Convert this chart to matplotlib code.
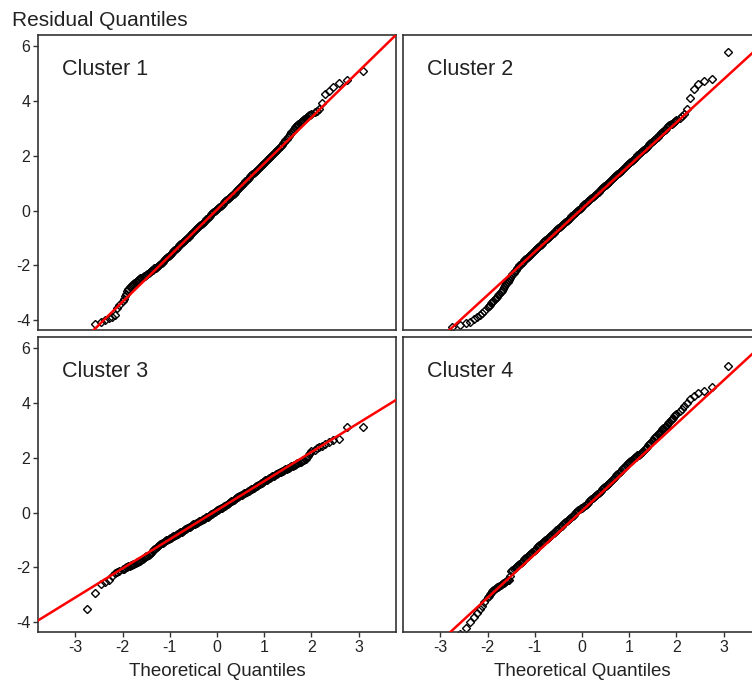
import matplotlib
matplotlib.use('Agg')
import matplotlib.pyplot as plt

plt.rcParams['font.family'] = ['Liberation Sans', 'DejaVu Sans']
plt.rcParams['axes.unicode_minus'] = False

# theoretical normal quantiles (shared by all clusters)
theo_q = [-3.09, -2.75, -2.58, -2.46, -2.37, -2.29, -2.23, -2.17, -2.12, -2.07,
          -2.000, -1.975, -1.950, -1.925, -1.900, -1.875, -1.850, -1.825, -1.800, -1.775,
          -1.750, -1.725, -1.700, -1.675, -1.650, -1.625, -1.600, -1.575, -1.550, -1.525,
          -1.500, -1.475, -1.450, -1.425, -1.400, -1.375, -1.350, -1.325, -1.300, -1.275,
          -1.250, -1.225, -1.200, -1.175, -1.150, -1.125, -1.100, -1.075, -1.050, -1.025,
          -1.000, -0.975, -0.950, -0.925, -0.900, -0.875, -0.850, -0.825, -0.800, -0.775,
          -0.750, -0.725, -0.700, -0.675, -0.650, -0.625, -0.600, -0.575, -0.550, -0.525,
          -0.500, -0.475, -0.450, -0.425, -0.400, -0.375, -0.350, -0.325, -0.300, -0.275,
          -0.250, -0.225, -0.200, -0.175, -0.150, -0.125, -0.100, -0.075, -0.050, -0.025,
          0.000,
          0.025, 0.050, 0.075, 0.100, 0.125, 0.150, 0.175, 0.200, 0.225, 0.250,
          0.275, 0.300, 0.325, 0.350, 0.375, 0.400, 0.425, 0.450, 0.475, 0.500,
          0.525, 0.550, 0.575, 0.600, 0.625, 0.650, 0.675, 0.700, 0.725, 0.750,
          0.775, 0.800, 0.825, 0.850, 0.875, 0.900, 0.925, 0.950, 0.975, 1.000,
          1.025, 1.050, 1.075, 1.100, 1.125, 1.150, 1.175, 1.200, 1.225, 1.250,
          1.275, 1.300, 1.325, 1.350, 1.375, 1.400, 1.425, 1.450, 1.475, 1.500,
          1.525, 1.550, 1.575, 1.600, 1.625, 1.650, 1.675, 1.700, 1.725, 1.750,
          1.775, 1.800, 1.825, 1.850, 1.875, 1.900, 1.925, 1.950, 1.975, 2.000,
          2.07, 2.12, 2.17, 2.23, 2.29, 2.37, 2.46, 2.58, 2.75, 3.09]

# sample (residual) quantiles
cluster1_q = [-5.30, -4.62, -4.15, -4.08, -4.00, -3.93, -3.87, -3.80, -3.55, -3.45,
              -3.30, -3.21, -3.12, -3.03, -2.95, -2.87, -2.80, -2.76, -2.72, -2.67,
              -2.63, -2.60, -2.57, -2.53, -2.50, -2.47, -2.45, -2.42, -2.40, -2.37,
              -2.34, -2.30, -2.27, -2.24, -2.22, -2.18, -2.15, -2.11, -2.08, -2.04,
              -2.01, -1.97, -1.94, -1.90, -1.86, -1.82, -1.78, -1.74, -1.70, -1.66,
              -1.62, -1.57, -1.53, -1.49, -1.45, -1.40, -1.36, -1.31, -1.27, -1.22,
              -1.18, -1.14, -1.10, -1.06, -1.02, -0.98, -0.95, -0.90, -0.86, -0.81,
              -0.77, -0.72, -0.68, -0.64, -0.60, -0.56, -0.52, -0.48, -0.44, -0.40,
              -0.36, -0.31, -0.27, -0.22, -0.18, -0.13, -0.09, -0.05, -0.01, 0.02,
              0.06,
              0.10, 0.14, 0.18, 0.22, 0.26, 0.30, 0.34, 0.38, 0.41, 0.45,
              0.49, 0.54, 0.58, 0.62, 0.66, 0.71, 0.75, 0.80, 0.84, 0.89,
              0.93, 0.98, 1.02, 1.07, 1.11, 1.16, 1.20, 1.25, 1.29, 1.34,
              1.38, 1.42, 1.46, 1.50, 1.54, 1.58, 1.62, 1.66, 1.70, 1.75,
              1.79, 1.84, 1.88, 1.93, 1.97, 2.01, 2.05, 2.09, 2.13, 2.18,
              2.22, 2.27, 2.31, 2.36, 2.41, 2.46, 2.51, 2.57, 2.62, 2.68,
              2.74, 2.80, 2.86, 2.93, 2.99, 3.05, 3.09, 3.14, 3.18, 3.22,
              3.25, 3.29, 3.32, 3.35, 3.38, 3.42, 3.45, 3.48, 3.51, 3.54,
              3.60, 3.66, 3.72, 3.93, 4.27, 4.39, 4.51, 4.68, 4.78, 5.11]

cluster2_q = [-4.90, -4.25, -4.18, -4.12, -4.05, -3.97, -3.90, -3.82, -3.74, -3.66,
              -3.52, -3.48, -3.44, -3.39, -3.34, -3.29, -3.24, -3.19, -3.14, -3.08,
              -3.03, -2.97, -2.92, -2.86, -2.80, -2.73, -2.66, -2.59, -2.52, -2.45,
              -2.38, -2.32, -2.26, -2.20, -2.15, -2.10, -2.05, -2.00, -1.96, -1.91,
              -1.87, -1.82, -1.78, -1.74, -1.70, -1.65, -1.61, -1.57, -1.53, -1.48,
              -1.44, -1.40, -1.36, -1.32, -1.28, -1.24, -1.20, -1.16, -1.12, -1.08,
              -1.04, -1.00, -0.96, -0.92, -0.88, -0.84, -0.80, -0.76, -0.72, -0.68,
              -0.64, -0.60, -0.56, -0.52, -0.48, -0.44, -0.40, -0.36, -0.33, -0.29,
              -0.25, -0.21, -0.17, -0.13, -0.09, -0.05, -0.01, 0.03, 0.07, 0.11,
              0.15,
              0.19, 0.23, 0.27, 0.31, 0.34, 0.38, 0.42, 0.46, 0.50, 0.54,
              0.58, 0.62, 0.66, 0.70, 0.74, 0.78, 0.82, 0.86, 0.90, 0.94,
              0.98, 1.02, 1.06, 1.10, 1.14, 1.18, 1.22, 1.26, 1.30, 1.34,
              1.38, 1.42, 1.46, 1.50, 1.54, 1.58, 1.62, 1.66, 1.70, 1.74,
              1.78, 1.82, 1.86, 1.90, 1.94, 1.98, 2.02, 2.06, 2.10, 2.14,
              2.18, 2.22, 2.26, 2.30, 2.34, 2.38, 2.42, 2.46, 2.50, 2.54,
              2.58, 2.62, 2.66, 2.71, 2.75, 2.80, 2.84, 2.88, 2.92, 2.96,
              3.00, 3.04, 3.08, 3.12, 3.15, 3.18, 3.21, 3.24, 3.27, 3.30,
              3.38, 3.45, 3.55, 3.72, 4.13, 4.45, 4.63, 4.75, 4.81, 5.80]

cluster3_q = [-4.60, -3.52, -2.95, -2.62, -2.52, -2.45, -2.32, -2.22, -2.18, -2.12,
              -2.06, -2.04, -2.02, -2.00, -1.98, -1.96, -1.94, -1.92, -1.90, -1.88,
              -1.86, -1.84, -1.82, -1.80, -1.77, -1.75, -1.72, -1.69, -1.66, -1.63,
              -1.60, -1.57, -1.53, -1.50, -1.46, -1.42, -1.38, -1.34, -1.30, -1.26,
              -1.22, -1.19, -1.15, -1.12, -1.09, -1.06, -1.03, -1.01, -0.98, -0.96,
              -0.93, -0.91, -0.88, -0.86, -0.84, -0.82, -0.79, -0.77, -0.74, -0.72,
              -0.69, -0.66, -0.63, -0.61, -0.58, -0.56, -0.53, -0.51, -0.48, -0.46,
              -0.43, -0.41, -0.38, -0.36, -0.34, -0.32, -0.29, -0.27, -0.24, -0.22,
              -0.19, -0.17, -0.14, -0.11, -0.08, -0.06, -0.03, 0.00, 0.03, 0.06,
              0.08,
              0.11, 0.13, 0.16, 0.18, 0.21, 0.23, 0.26, 0.29, 0.32, 0.35,
              0.38, 0.41, 0.44, 0.47, 0.50, 0.53, 0.56, 0.58, 0.61, 0.63,
              0.66, 0.68, 0.71, 0.73, 0.76, 0.78, 0.81, 0.83, 0.86, 0.88,
              0.91, 0.93, 0.96, 0.98, 1.01, 1.04, 1.07, 1.10, 1.13, 1.15,
              1.18, 1.20, 1.23, 1.25, 1.28, 1.30, 1.33, 1.35, 1.38, 1.40,
              1.43, 1.45, 1.48, 1.50, 1.52, 1.54, 1.57, 1.59, 1.61, 1.63,
              1.65, 1.67, 1.70, 1.72, 1.74, 1.76, 1.78, 1.80, 1.82, 1.84,
              1.86, 1.88, 1.91, 1.94, 1.98, 2.02, 2.08, 2.14, 2.19, 2.24,
              2.30, 2.36, 2.40, 2.45, 2.52, 2.58, 2.64, 2.70, 3.12, 3.14]

cluster4_q = [-5.00, -4.70, -4.45, -4.22, -4.00, -3.82, -3.68, -3.52, -3.40, -3.27,
              -3.08, -3.03, -2.98, -2.93, -2.88, -2.84, -2.80, -2.76, -2.73, -2.70,
              -2.67, -2.64, -2.61, -2.58, -2.56, -2.53, -2.50, -2.47, -2.45, -2.30,
              -2.14, -2.10, -2.07, -2.03, -1.99, -1.95, -1.91, -1.87, -1.83, -1.79,
              -1.75, -1.71, -1.67, -1.63, -1.59, -1.55, -1.51, -1.47, -1.43, -1.39,
              -1.35, -1.31, -1.27, -1.23, -1.19, -1.15, -1.11, -1.07, -1.03, -1.00,
              -0.96, -0.92, -0.88, -0.84, -0.80, -0.77, -0.73, -0.69, -0.65, -0.62,
              -0.58, -0.54, -0.50, -0.47, -0.43, -0.39, -0.35, -0.31, -0.27, -0.23,
              -0.19, -0.15, -0.11, -0.07, -0.02, 0.02, 0.06, 0.10, 0.13, 0.16,
              0.18,
              0.22, 0.25, 0.29, 0.33, 0.37, 0.41, 0.45, 0.49, 0.53, 0.57,
              0.61, 0.65, 0.69, 0.73, 0.77, 0.81, 0.85, 0.89, 0.93, 0.97,
              1.01, 1.05, 1.09, 1.13, 1.18, 1.22, 1.27, 1.31, 1.36, 1.40,
              1.45, 1.49, 1.54, 1.58, 1.63, 1.68, 1.73, 1.78, 1.82, 1.86,
              1.90, 1.93, 1.96, 1.99, 2.02, 2.05, 2.09, 2.12, 2.16, 2.19,
              2.23, 2.27, 2.32, 2.36, 2.41, 2.46, 2.51, 2.56, 2.62, 2.67,
              2.72, 2.77, 2.82, 2.86, 2.91, 2.95, 3.00, 3.04, 3.09, 3.13,
              3.18, 3.22, 3.27, 3.32, 3.37, 3.42, 3.47, 3.52, 3.56, 3.60,
              3.70, 3.80, 3.90, 4.00, 4.16, 4.28, 4.36, 4.43, 4.61, 5.36]

panel_names = ['Cluster 1', 'Cluster 2', 'Cluster 3', 'Cluster 4']
samples = [cluster1_q, cluster2_q, cluster3_q, cluster4_q]
# reference line for each panel
line_intercept = [0.04, 0.07, 0.09, 0.07]
line_slope = [1.685, 1.578, 1.063, 1.59]

x_ticks = [-3, -2, -1, 0, 1, 2, 3]
y_ticks = [-4, -2, 0, 2, 4, 6]

W, H = 752, 681
fig = plt.figure(figsize=(W / 100, H / 100), dpi=100)

def px_rect(left, top, right, bottom):
    return [left / W, 1 - bottom / H, (right - left) / W, (bottom - top) / H]

# panel boxes in pixels (right column runs off the edge like the original)
boxes = [(38, 35, 396, 330), (403, 35, 761, 330),
         (38, 337, 396, 632), (403, 337, 761, 632)]

for i, box in enumerate(boxes):
    ax = fig.add_axes(px_rect(*box))
    ax.plot(theo_q, samples[i], ls='none', marker='D', ms=4.0,
            mfc='none', mec='black', mew=1.0, zorder=2)
    ax.axline((0, line_intercept[i]), slope=line_slope[i], color='red', lw=1.8, zorder=3)

    ax.set_xlim(-3.79, 3.79)
    ax.set_ylim(-4.36, 6.42)
    ax.set_xticks(x_ticks)
    ax.set_yticks(y_ticks)
    ax.tick_params(direction='out', length=3.6, width=1, color='#333333',
                   labelcolor='#222222', labelsize=11.5, pad=2)
    for sp in ax.spines.values():
        sp.set_color('#333333')
        sp.set_linewidth(1.2)

    if i < 2:
        ax.tick_params(bottom=False, labelbottom=False)
    if i % 2 == 1:
        ax.tick_params(left=False, labelleft=False)

    ax.text(0.067, 0.866, panel_names[i], transform=ax.transAxes,
            fontsize=15.5, color='#222222', va='baseline')

    if i >= 2:
        cx = (box[0] + 396 - 38 + box[0]) / 2
        fig.text(cx / W, 1 - 676.5 / H, 'Theoretical Quantiles', ha='center',
                 va='baseline', fontsize=13.5, color='#222222')

fig.text(12 / W, 1 - 25.5 / H, 'Residual Quantiles', fontsize=15,
         color='#222222', va='baseline')

fig.savefig('out.png', dpi=100)
plt.close(fig)
